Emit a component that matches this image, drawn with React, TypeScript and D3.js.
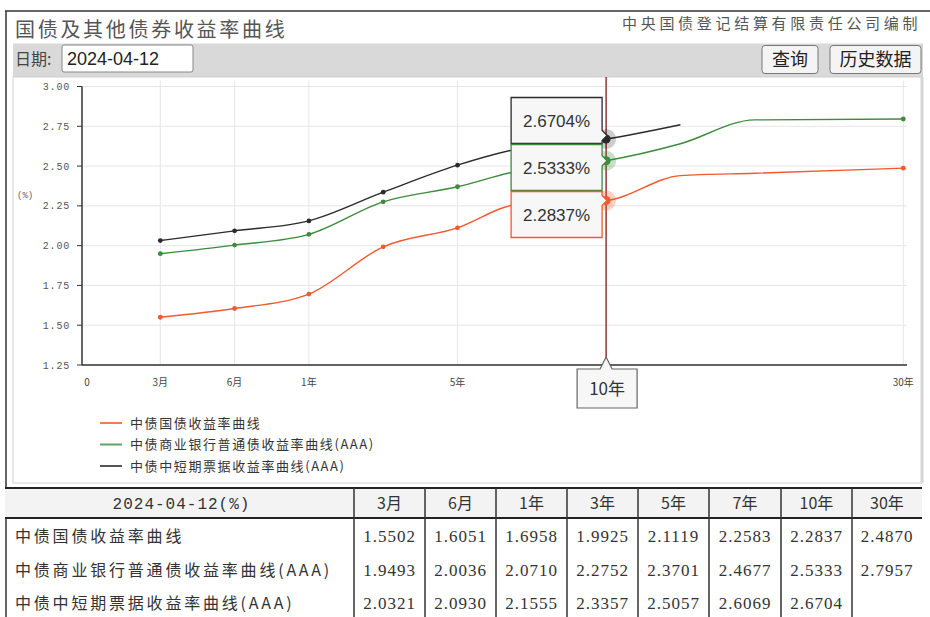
import React from "react";
import * as d3 from "d3";

// ---- data ----
const tenorLabels = ["3月", "6月", "1年", "3年", "5年", "7年", "10年", "30年"];
const tenorYears = [0.25, 0.5, 1, 3, 5, 7, 10, 30];
const govYields: (number | null)[] = [1.5502, 1.6051, 1.6958, 1.9925, 2.1119, 2.2583, 2.2837, 2.487];
const bankYields: (number | null)[] = [1.9493, 2.0036, 2.071, 2.2752, 2.3701, 2.4677, 2.5333, 2.7957];
const billYields: (number | null)[] = [2.0321, 2.093, 2.1555, 2.3357, 2.5057, 2.6069, 2.6704, null];
// curve points at tenors not listed in the table
const extraYears = [15, 20];
const govExtra: (number | null)[] = [2.44, 2.455];
const bankExtra: (number | null)[] = [2.64, 2.79];
const billExtra: (number | null)[] = [2.76, null];

const seriesNames = ["中债国债收益率曲线", "中债商业银行普通债收益率曲线(AAA)", "中债中短期票据收益率曲线(AAA)"];
const seriesColors = ["#f05a2c", "#3d8b3d", "#2b2b2b"];
const haloColors = ["rgba(240,90,44,0.28)", "rgba(61,139,61,0.28)", "rgba(0,0,0,0.2)"];
const xTickYears = [0, 0.25, 0.5, 1, 5, 10, 30];
const xTickLabels = ["0", "3月", "6月", "1年", "5年", "10年", "30年"];
const yTicks = [1.25, 1.5, 1.75, 2.0, 2.25, 2.5, 2.75, 3.0];
const highlightYear = 10;
const tableDate = "2024-04-12";

const CJK = "'Noto Sans CJK SC', 'Noto Sans', sans-serif";
const MONO = "'Liberation Mono', 'DejaVu Sans Mono', monospace";
const SERIF = "'Liberation Serif', serif";

export default function App() {
  const W = 930, H = 617;
  // plot geometry
  const plotTop = 86.5, plotBottom = 365, axisX = 82, plotRight = 907;
  const x0 = 86, unit = 74.3;
  const x = d3.scaleLinear()
    .domain([0, 0.25, 0.5, 1, 5, 10, 30])
    .range([0, 1, 2, 3, 5, 7, 11].map((u) => x0 + u * unit));
  const y = d3.scaleLinear().domain([1.25, 3.0]).range([plotBottom, plotTop]);

  const allSeries = [
    { vals: govYields, extra: govExtra },
    { vals: bankYields, extra: bankExtra },
    { vals: billYields, extra: billExtra },
  ];

  const line = d3.line<[number, number]>()
    .x((d) => x(d[0]))
    .y((d) => y(d[1]))
    .curve(d3.curveMonotoneX);

  const curves = allSeries.map((s) => {
    const pts: [number, number][] = [];
    tenorYears.forEach((t, i) => { if (s.vals[i] != null) pts.push([t, s.vals[i] as number]); });
    extraYears.forEach((t, i) => { if (s.extra[i] != null) pts.push([t, s.extra[i] as number]); });
    pts.sort((a, b) => a[0] - b[0]);
    return pts;
  });

  const hiIdx = tenorYears.indexOf(highlightYear);
  const hx = x(highlightYear);

  // tooltip boxes (stacked, top: bill, then bank, then gov)
  const tipOrder = [2, 1, 0];
  const tipW = 91, tipH = 46, tipTop = 97.5, tipRight = hx - 4;

  // table geometry
  const colX = [5, 354, 425, 496, 567, 638, 709, 781, 852, 922];
  const tHeadTop = 488, tHeadBot = 518, rowH = 33.5;

  return (
    <svg width={W} height={H} style={{ position: "absolute", left: 0, top: 0, background: "#fff" }}>
      {/* outer frame */}
      <line x1={5} x2={930} y1={11} y2={11} stroke="#333" strokeWidth={1.5} />
      <line x1={6} x2={6} y1={11} y2={617} stroke="#333" strokeWidth={1.5} />

      {/* title row */}
      <text x={15} y={37} fontFamily={CJK} fontSize={20} fill="#555" letterSpacing={2.7}>国债及其他债券收益率曲线</text>
      <text x={622} y={29} fontFamily={CJK} fontSize={15} fill="#555" letterSpacing={3.7}>中央国债登记结算有限责任公司编制</text>

      {/* toolbar */}
      <rect x={13} y={43.5} width={910} height={33.5} fill="#d9d9d9" />
      <text x={15} y={65} fontFamily={CJK} fontSize={16} fill="#444">日期:</text>
      <rect x={62} y={45} width={131} height={27} rx={2} fill="#fff" stroke="#888" />
      <text x={67} y={65} fontFamily="'Liberation Sans', Arial, sans-serif" fontSize={18} fill="#222">2024-04-12</text>
      <rect x={762} y={45.5} width={56} height={28} rx={3} fill="#f4f4f4" stroke="#777" />
      <text x={790} y={66} textAnchor="middle" fontFamily={CJK} fontSize={18} fill="#222">查询</text>
      <rect x={830} y={45.5} width={91} height={28} rx={3} fill="#f4f4f4" stroke="#777" />
      <text x={875.5} y={66} textAnchor="middle" fontFamily={CJK} fontSize={18} fill="#222">历史数据</text>

      {/* chart panel */}
      <rect x={13} y={77} width={909} height={406} fill="#fff" stroke="#cfcfcf" />
      <rect x={920.5} y={77} width={3} height={406} fill="#d6d6d6" />

      {/* grid */}
      {yTicks.map((t) => (
        <line key={"gy" + t} x1={axisX} x2={plotRight} y1={y(t)} y2={y(t)} stroke="#e6e6e6" />
      ))}
      {xTickYears.filter((t) => t > 0).map((t) => (
        <line key={"gx" + t} x1={x(t)} x2={x(t)} y1={plotTop - 6} y2={plotBottom} stroke="#e6e6e6" />
      ))}

      {/* axes */}
      <line x1={axisX} x2={axisX} y1={plotTop} y2={plotBottom} stroke="#333" strokeWidth={1.5} />
      <line x1={axisX} x2={plotRight} y1={plotBottom} y2={plotBottom} stroke="#333" strokeWidth={1.5} />
      {yTicks.map((t) => (
        <g key={"ty" + t}>
          <line x1={axisX - 5} x2={axisX} y1={y(t)} y2={y(t)} stroke="#333" />
          <text x={70} y={y(t) + 3.5} textAnchor="end" fontFamily={MONO} fontSize={10} fill="#555" letterSpacing={0.8}>
            {d3.format(".2f")(t)}
          </text>
        </g>
      ))}
      <text x={17} y={198} fontFamily={MONO} fontSize={9} fill="#666">(%)</text>
      {xTickYears.map((t, i) =>
        t === highlightYear ? null : (
          <text key={"tx" + t} x={x(t) + (t === 0 ? 1 : 0)} y={386} textAnchor="middle" fontFamily={CJK} fontSize={10} fill="#444">
            {xTickLabels[i]}
          </text>
        )
      )}

      {/* lines */}
      {curves.map((pts, i) => (
        <path key={"l" + i} d={line(pts) || ""} fill="none" stroke={seriesColors[i]} strokeWidth={1.4} />
      ))}
      {/* dots */}
      {allSeries.map((s, i) =>
        tenorYears.map((t, j) =>
          s.vals[j] != null && t !== highlightYear ? (
            <circle key={"d" + i + "-" + j} cx={x(t)} cy={y(s.vals[j] as number)} r={2.4} fill={seriesColors[i]} />
          ) : null
        )
      )}

      {/* crosshair */}
      <line x1={hx} x2={hx} y1={77} y2={369} stroke="#8b1a1a" strokeWidth={1.3} />

      {/* highlight dots */}
      {allSeries.map((s, i) => {
        const v = s.vals[hiIdx];
        if (v == null) return null;
        return (
          <g key={"h" + i}>
            <circle cx={hx} cy={y(v)} r={10} fill={haloColors[i]} />
            <circle cx={hx} cy={y(v)} r={4.5} fill={seriesColors[i]} />
          </g>
        );
      })}

      {/* value tooltips */}
      {tipOrder.map((si, k) => {
        const v = allSeries[si].vals[hiIdx];
        if (v == null) return null;
        const top = tipTop + k * (tipH + 1);
        const left = tipRight - tipW;
        const ay = Math.max(top + 8, Math.min(top + tipH - 8, y(v)));
        const p = `M${left},${top} H${tipRight} V${ay - 5} L${tipRight + 5},${ay} L${tipRight},${ay + 5} V${top + tipH} H${left} Z`;
        return (
          <g key={"tip" + si}>
            <path d={p} fill="#f7f7f7" stroke={seriesColors[si]} strokeWidth={1.3} />
            <text x={left + tipW / 2} y={top + tipH / 2 + 6} textAnchor="middle" fontFamily="'Liberation Sans', Arial, sans-serif" fontSize={17} fill="#333">
              {d3.format(".4f")(v)}%
            </text>
          </g>
        );
      })}

      {/* axis tooltip */}
      {(() => {
        const bw = 60, top = 369, bh = 39, left = hx - 29;
        const p = `M${left},${top} H${hx - 6} L${hx},${top - 12} L${hx + 6},${top} H${left + bw} V${top + bh} H${left} Z`;
        return (
          <g>
            <path d={p} fill="#f7f7f7" stroke="#666" strokeWidth={1.2} />
            <text x={left + bw / 2} y={top + 26} textAnchor="middle" fontFamily={CJK} fontSize={17} fill="#333">
              {tenorLabels[hiIdx]}
            </text>
          </g>
        );
      })()}

      {/* legend */}
      {seriesNames.map((n, i) => (
        <g key={"lg" + i} transform={`translate(0, ${423 + i * 21.5})`}>
          <line x1={100} x2={122} y1={0} y2={0} stroke={seriesColors[i]} strokeWidth={2} opacity={0.8} />
          <text x={130} y={4.5} fontFamily={CJK} fontSize={13} fill="#333" letterSpacing={1.6}>{n}</text>
        </g>
      ))}

      {/* table */}
      <rect x={5} y={tHeadTop} width={917} height={tHeadBot - tHeadTop} fill="#f3f3f3" />
      <line x1={5} x2={922} y1={tHeadTop} y2={tHeadTop} stroke="#222" strokeWidth={2} />
      <line x1={5} x2={922} y1={tHeadBot} y2={tHeadBot} stroke="#222" strokeWidth={2} />
      {colX.slice(1, -1).map((cx, i) => (
        <line key={"cl" + i} x1={cx} x2={cx} y1={tHeadTop} y2={H} stroke="#333" strokeWidth={1.5} />
      ))}
      <text x={(colX[0] + colX[1]) / 2 + 2} y={tHeadTop + 21} textAnchor="middle" fontFamily={MONO} fontSize={16} fill="#333" letterSpacing={1}>
        {tableDate}(%)
      </text>
      {tenorLabels.map((l, i) => (
        <text key={"th" + i} x={(colX[i + 1] + colX[i + 2]) / 2} y={tHeadTop + 21} textAnchor="middle" fontFamily={CJK} fontSize={16} fill="#333">
          {l}
        </text>
      ))}
      {allSeries.map((s, r) => (
        <g key={"row" + r}>
          <text x={15} y={tHeadBot + rowH * r + 24} fontFamily={CJK} fontSize={16} fill="#333" letterSpacing={2.8}>
            {seriesNames[r]}
          </text>
          {s.vals.map((v, i) =>
            v == null ? null : (
              <text key={"c" + i} x={(colX[i + 1] + colX[i + 2]) / 2} y={tHeadBot + rowH * r + 24} textAnchor="middle" fontFamily={SERIF} fontSize={17} fill="#333" letterSpacing={1}>
                {d3.format(".4f")(v)}
              </text>
            )
          )}
        </g>
      ))}
    </svg>
  );
}
